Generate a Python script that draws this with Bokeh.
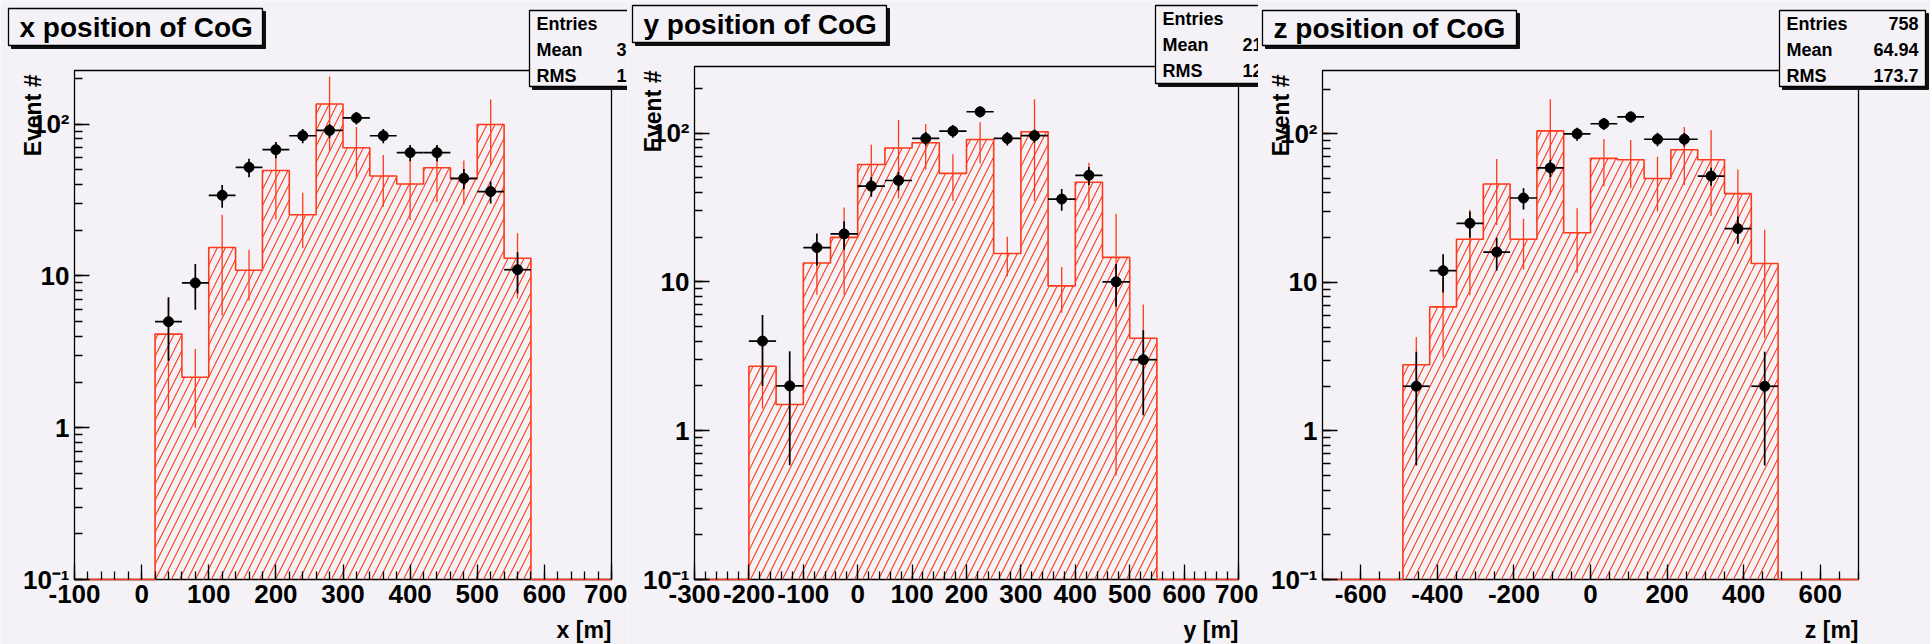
import numpy as np
from bokeh.plotting import figure
from bokeh.models import (Range1d, LogTicker, SingleIntervalTicker, Label, BoxAnnotation,
                          PrintfTickFormatter)
from bokeh.layouts import row
from bokeh.embed import file_html
from bokeh.resources import INLINE

# ---------------- data ----------------
x_edges = [20, 60, 100, 140, 180, 220, 260, 300, 340, 380, 420, 460, 500, 540, 580]
x_data = [5, 9, 34, 52, 68, 84, 91, 110, 84, 65, 65, 44, 36, 11]
x_mc = [4.14, 2.15, 15.4, 10.9, 49.6, 25.3, 136, 70, 45.6, 40.4, 51.7, 43.7, 99.5, 13.1]
x_mc_err = [2.84, 1.15, 9.9, 4.0, 26, 10, 70, 26, 17, 17, 21, 14, 46, 6]

y_edges = [-200, -150, -100, -50, 0, 50, 100, 150, 200, 250, 300, 350, 400, 450, 500, 550]
y_data = [4, 2, 17, 21, 44, 48, 92, 103, 139, 92, 96, 36, 52, 10, 3]
y_mc = [2.71, 1.5, 13.4, 19.9, 61.5, 79.3, 86, 53.6, 90.4, 15.5, 102, 9.4, 46.7, 14.6, 4.18]
y_mc_err = [1.3, 0.9, 5.2, 11.7, 22, 43, 29, 18.5, 28, 4.6, 67, 3.2, 16.5, 14.1, 2.87]

z_edges = [-490, -420, -350, -280, -210, -140, -70, 0, 70, 140, 210, 280, 350, 420, 490]
z_data = [2, 12, 25, 16, 37, 59, 100, 117, 130, 92, 92, 52, 23, 2]
z_mc = [2.79, 6.84, 19.5, 46, 19.5, 104.7, 21.6, 68.4, 67, 50, 78.2, 67, 39.6, 13.4]
z_mc_err = [1.5, 3.7, 11.3, 21.7, 7.3, 66, 10, 24, 24, 20, 33, 39, 18, 9.2]

titles = ["x position of CoG", "y position of CoG", "z position of CoG"]
xlabels = ["x [m]", "y [m]", "z [m]"]
ylabel = "Event #"
stat_names = ["Entries", "Mean", "RMS"]
x_stats = ["758", "314.8", "121.6"]
y_stats = ["758", "212.6", "124.9"]
z_stats = ["758", "64.94", "173.7"]

y_tick_labels = {0.1: "10\u207b\u00b9", 1: "1", 10: "10", 100: "10\u00b2"}

# ---------------- style ----------------
BG = "#f4f2f6"
RED = "#ff3a1a"
FONT = "Liberation Sans"
H = 644
YMIN = 0.1


def panel(W, L, R, top, bottom, xr, ymax, interval, nminor, edges, data, mc, mcerr, title, xlabel,
          stats, tbox, sbox):
    # the Bokeh frame covers the whole canvas; the ROOT-style frame is drawn inside it
    upx = (xr[1] - xr[0]) / (R - L)
    dpp = (np.log10(ymax) - np.log10(YMIN)) / (bottom - top)
    x_rng = Range1d(xr[0] - L * upx, xr[1] + (W - R) * upx)
    y_rng = Range1d(YMIN * 10 ** (-(H - bottom) * dpp), ymax * 10 ** (top * dpp))
    p = figure(width=W, height=H, x_range=x_rng, y_range=y_rng, y_axis_type="log",
               output_backend="svg", toolbar_location=None, min_border=0,
               background_fill_color=BG, border_fill_color=BG, outline_line_color=None)
    p.title.visible = False
    p.grid.visible = False

    sx = lambda X: X
    sy = lambda Y: H - Y

    edges = np.asarray(edges, float)
    data = np.asarray(data, float)
    mc = np.asarray(mc, float)
    mcerr = np.asarray(mcerr, float)
    lo, hi = edges[:-1], edges[1:]
    ctr = 0.5 * (lo + hi)

    # plot frame
    p.quad(left=xr[0], right=xr[1], bottom=YMIN, top=ymax, fill_alpha=0,
           line_color="black", line_width=1.3)

    # hatched MC histogram
    p.quad(left=lo, right=hi, bottom=YMIN, top=mc, fill_alpha=0, line_alpha=0,
           hatch_pattern="/", hatch_color=RED, hatch_scale=16, hatch_weight=1.1)
    # outline
    ox = [xr[0], lo[0]]
    oy = [YMIN, YMIN]
    for a, b, v in zip(lo, hi, mc):
        ox += [a, b]
        oy += [v, v]
    ox += [hi[-1], hi[-1], xr[1]]
    oy += [YMIN, YMIN, YMIN]
    p.line(ox, oy, line_color=RED, line_width=1.6)
    # MC errors
    p.segment(x0=ctr, y0=np.maximum(mc - mcerr, YMIN), x1=ctr, y1=mc + mcerr,
              line_color=RED, line_width=1.3)

    # data points
    derr = np.sqrt(data)
    p.segment(x0=ctr, y0=np.maximum(data - derr, YMIN), x1=ctr, y1=data + derr,
              line_color="black", line_width=1.7)
    p.segment(x0=lo, y0=data, x1=hi, y1=data, line_color="black", line_width=1.7)
    p.scatter(ctr, data, size=10, color="black")

    # axes, drawn on the ROOT frame edges
    ax = p.xaxis[0]
    ax.ticker = SingleIntervalTicker(interval=interval, num_minor_ticks=nminor)
    ax.formatter = PrintfTickFormatter(format="%d")
    ax.fixed_location = YMIN
    ax.bounds = (xr[0], xr[1])
    ay = p.yaxis[0]
    ay.ticker = LogTicker(num_minor_ticks=10)
    ay.fixed_location = xr[0]
    ay.bounds = (YMIN, ymax)
    ay.major_label_overrides = y_tick_labels
    for a in (ax, ay):
        a.axis_line_color = None
        a.major_tick_in = 15
        a.major_tick_out = 0
        a.minor_tick_in = 8
        a.minor_tick_out = 0
        a.major_tick_line_color = "black"
        a.minor_tick_line_color = "black"
        a.major_tick_line_width = 1.3
        a.minor_tick_line_width = 1.3
        a.major_label_text_font = FONT
        a.major_label_text_font_style = "bold"
        a.major_label_text_font_size = "26px"
        a.major_label_text_color = "black"
    ax.major_label_standoff = 5
    ay.major_label_standoff = 5

    def text(X, Y, s, size, align="left", angle=0.0):
        p.add_layout(Label(x=sx(X), y=sy(Y), x_units="screen", y_units="screen", text=s, angle=angle,
                           text_font=FONT, text_font_style="bold", text_font_size=f"{size}px",
                           text_align=align, text_baseline="middle", text_color="black"))

    def box(x0, y0, x1, y1, shadow=3):
        kw = dict(left_units="screen", right_units="screen", top_units="screen",
                  bottom_units="screen")
        p.add_layout(BoxAnnotation(left=sx(x0 + shadow), right=sx(x1 + shadow), top=sy(y0 + shadow),
                                   bottom=sy(y1 + shadow), fill_color="#111111", fill_alpha=1,
                                   line_color="#111111", line_alpha=1, **kw))
        p.add_layout(BoxAnnotation(left=sx(x0), right=sx(x1), top=sy(y0), bottom=sy(y1),
                                   fill_color=BG, fill_alpha=1, line_color="black", line_alpha=1,
                                   line_width=1.3, **kw))

    # axis titles
    text(L - 42, top + 4, ylabel, 23, align="right", angle=np.pi / 2)
    text(R, 629, xlabel, 23, align="right")

    # title pave
    x0, y0, x1, y1 = tbox
    box(x0, y0, x1, y1)
    text(x0 + 11, 0.5 * (y0 + y1), title, 28)

    # stats pave
    x0, y0, x1, y1 = sbox
    box(x0, y0, x1, y1)
    for i, (n, v) in enumerate(zip(stat_names, stats)):
        yy = y0 + 13 + 26 * i
        text(x0 + 7, yy, n, 18)
        text(x1 - 7, yy, v, 18, align="right")
    return p


p1 = panel(627, 74, 611, 70, 579, (-100, 700), 226, 100, 5, x_edges, x_data, x_mc, x_mc_err,
           titles[0], xlabels[0], x_stats, (8, 8, 262, 45), (529, 10, 668, 86))
p2 = panel(631, 67, 611, 66, 579, (-300, 700), 280, 100, 5, y_edges, y_data, y_mc, y_mc_err,
           titles[1], xlabels[1], y_stats, (5, 5, 259, 42), (528, 5, 667, 83))
p3 = panel(672, 64, 600, 70, 579, (-700, 700), 267, 200, 4, z_edges, z_data, z_mc, z_mc_err,
           titles[2], xlabels[2], z_stats, (4, 10, 258, 45), (521, 10, 667, 86))

layout = row(p1, p2, p3, spacing=0)
open("out.html", "w").write(file_html(layout, INLINE))
